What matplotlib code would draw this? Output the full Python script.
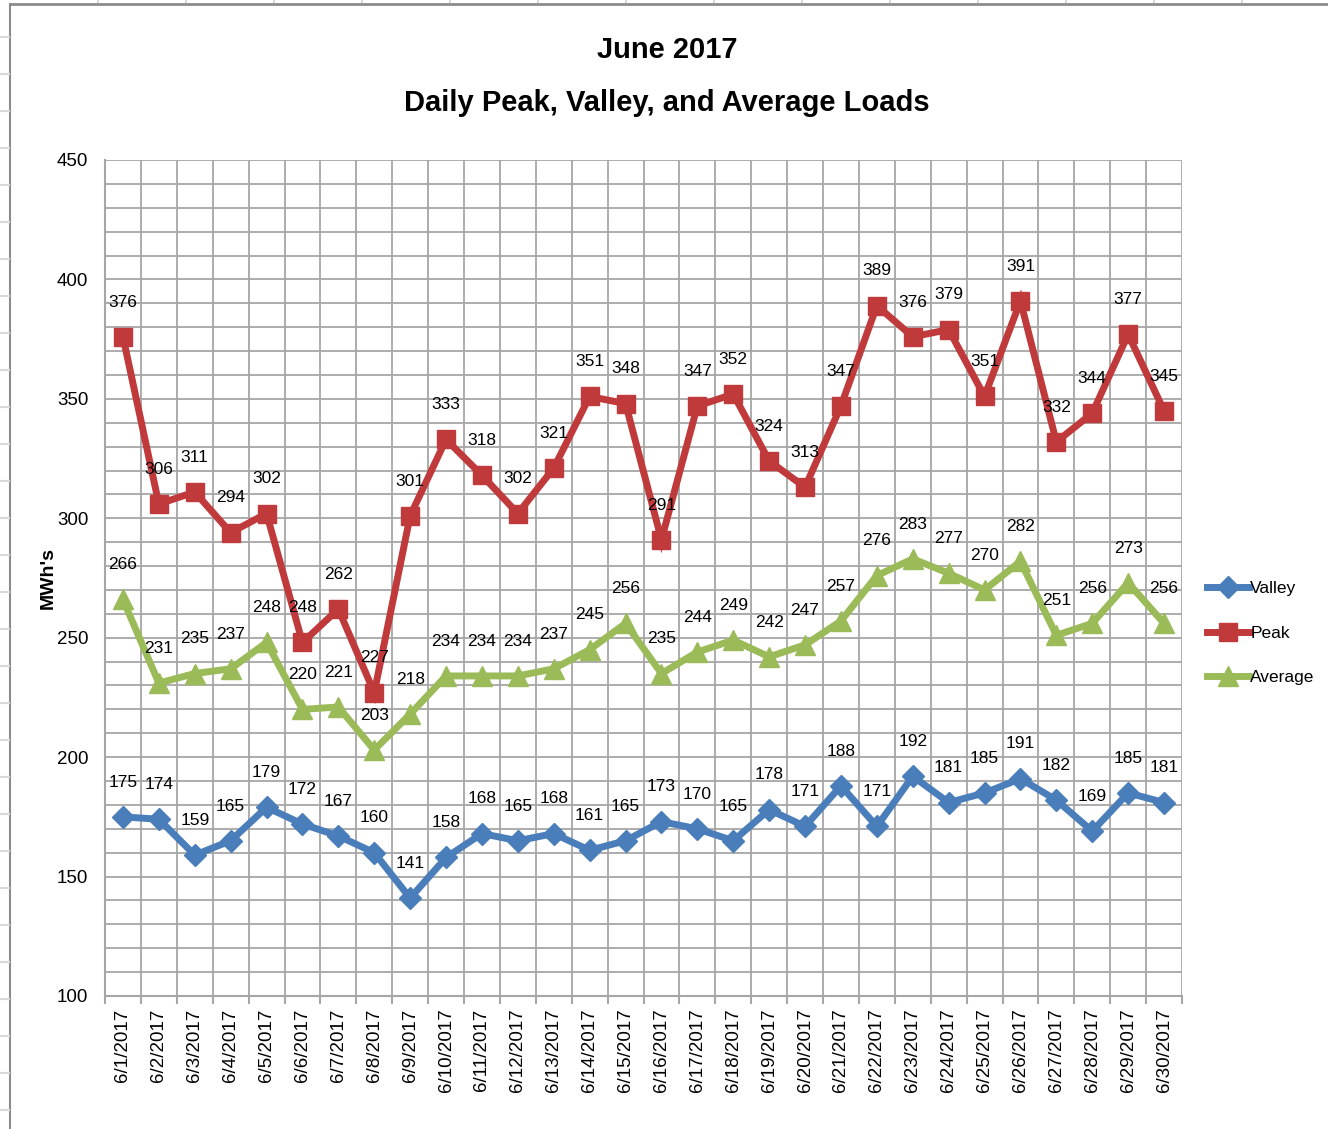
import numpy as np
import matplotlib
matplotlib.use("Agg")
import matplotlib.pyplot as plt
from matplotlib.lines import Line2D

plt.rcParams["font.family"] = ["Liberation Sans", "DejaVu Sans"]

# ── Data ──────────────────────────────────────────────────────────────────────
dates = [f"6/{d}/2017" for d in range(1, 31)]
valley = [175, 174, 159, 165, 179, 172, 167, 160, 141, 158, 168, 165, 168, 161, 165,
          173, 170, 165, 178, 171, 188, 171, 192, 181, 185, 191, 182, 169, 185, 181]
peak = [376, 306, 311, 294, 302, 248, 262, 227, 301, 333, 318, 302, 321, 351, 348,
        291, 347, 352, 324, 313, 347, 389, 376, 379, 351, 391, 332, 344, 377, 345]
average = [266, 231, 235, 237, 248, 220, 221, 203, 218, 234, 234, 234, 237, 245, 256,
           235, 244, 249, 242, 247, 257, 276, 283, 277, 270, 282, 251, 256, 273, 256]

BLUE = "#4a7ebb"
RED = "#c0393b"
GREEN = "#9bbb59"
GRID = "#a6a6a6"

fig = plt.figure(figsize=(13.28, 11.29), dpi=100)

# spreadsheet-ish background: chart border and row/column marks
fig.add_artist(Line2D([10 / 1328, 10 / 1328], [0, 1 - 4 / 1129], color="#8c8c8c", lw=1.5))
fig.add_artist(Line2D([10 / 1328, 1], [1 - 4 / 1129, 1 - 4 / 1129], color="#8c8c8c", lw=2))
for yy in np.arange(37, 1129, 37):
    fig.add_artist(Line2D([0, 9 / 1328], [1 - yy / 1129] * 2, color="#d9d9d9", lw=1.5))
for xx in [98, 186, 274, 362, 450, 538, 626, 714, 802, 890, 978, 1066, 1154, 1242]:
    fig.add_artist(Line2D([xx / 1328] * 2, [1, 1 - 2 / 1129], color="#d9d9d9", lw=1.5))

ax = fig.add_axes([105 / 1328, 133 / 1129, 1077 / 1328, 836 / 1129])

x = np.arange(len(dates))
series = [
    ("Valley", valley, BLUE, "D", 11),
    ("Peak", peak, RED, "s", 13),
    ("Average", average, GREEN, "^", 14),
]
handles = []
for name, vals, col, mk, ms in series:
    h, = ax.plot(x, vals, color=col, lw=5, marker=mk, markersize=ms,
                 markeredgecolor=col, label=name, zorder=3, solid_joinstyle="miter")
    handles.append(h)
    for xi, v in zip(x, vals):
        ax.annotate(str(v), (xi, v), xytext=(0, 25), textcoords="offset points",
                    ha="center", va="center", fontsize=12.5, color="black", zorder=4)

# axes and grid
ax.set_xlim(-0.5, len(dates) - 0.5)
ax.set_ylim(100, 450)
ax.set_yticks(np.arange(100, 451, 50))
ax.set_yticks(np.arange(100, 451, 10), minor=True)
ax.set_xticks(x)
ax.set_xticklabels(dates, rotation=90, fontsize=13.5)
ax.set_xticks(np.arange(-0.5, len(dates), 1.0), minor=True)
ax.tick_params(axis="x", which="major", length=0, pad=9)
ax.tick_params(axis="x", which="minor", length=6, color=GRID, width=1.5, direction="out")
ax.tick_params(axis="y", which="both", length=0, labelsize=13.5, pad=12)
ax.grid(which="minor", color=GRID, lw=1.3, zorder=0)
ax.grid(which="major", axis="y", color=GRID, lw=1.3, zorder=0)
ax.set_axisbelow(True)
for s in ["top", "right"]:
    ax.spines[s].set_visible(False)
for s in ["left", "bottom"]:
    ax.spines[s].set_color(GRID)
    ax.spines[s].set_linewidth(1.5)

ax.set_ylabel("MWh's", fontsize=14, fontweight="bold")
ax.yaxis.set_label_coords(-48 / 1077, 0.5)

fig.text(667 / 1328, 1 - 50 / 1129, "June 2017", ha="center", va="center",
         fontsize=21, fontweight="bold")
fig.text(667 / 1328, 1 - 103 / 1129, "Daily Peak, Valley, and Average Loads",
         ha="center", va="center", fontsize=21, fontweight="bold")

fig.legend(handles=handles, loc="center left", bbox_to_anchor=(1207 / 1328, 1 - 633 / 1129),
           frameon=False, fontsize=12.5, handlelength=2.4, handletextpad=0.1,
           labelspacing=1.7, borderaxespad=0, borderpad=0)

fig.savefig("out.png", dpi=100)
